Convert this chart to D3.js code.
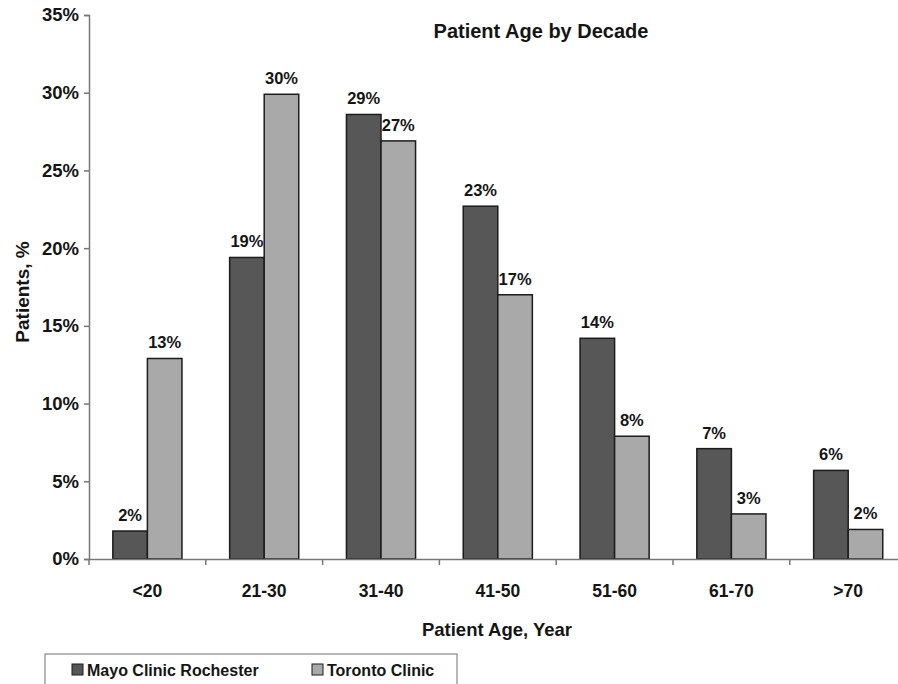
<!DOCTYPE html>
<html>
<head>
<meta charset="utf-8">
<script src="https://cdn.jsdelivr.net/npm/d3@7"></script>
<style>
  body { margin: 0; background: #fff; }
  svg text { font-family: "Liberation Sans", Arial, sans-serif; fill: #151515; }
</style>
</head>
<body>
<div id="chart"></div>
<script>
/* chart data */
var ageGroups = ["<20", "21-30", "31-40", "41-50", "51-60", "61-70", ">70"]
var seriesNames = ["Mayo Clinic Rochester", "Toronto Clinic"]
var mayoValues = [1.8, 19.4, 28.6, 22.7, 14.2, 7.1, 5.7]
var torontoValues = [12.9, 29.9, 26.9, 17.0, 7.9, 2.9, 1.9]
var yTicks = [0, 5, 10, 15, 20, 25, 30, 35]

/* colours */
var seriesColors = {
  "Mayo Clinic Rochester": "#575757",
  "Toronto Clinic": "#a9a9a9"
}

/* layout */
var width = 898,
    height = 684,
    plotLeft = 89,
    plotRight = 906.6,
    plotTop = 15,
    plotBottom = 559

var rows = ageGroups.map(function(g, i) {
  return { group: g, values: [mayoValues[i], torontoValues[i]] }
})

var svg = d3.select("#chart")
  .append("svg")
  .attr("width", width)
  .attr("height", height)

/* scales */
var x0 = d3.scaleBand()
  .domain(ageGroups)
  .range([plotLeft, plotRight])
  .padding(0)
var x1 = d3.scaleBand()
  .domain(seriesNames)
  .range([0, x0.bandwidth()])
  .paddingInner(0)
  .paddingOuter(0.69)
var y = d3.scaleLinear()
  .domain([0, 35])
  .range([plotBottom, plotTop])

/* bars */
var groups = svg.selectAll("g.group")
  .data(rows)
  .enter().append("g")
  .attr("class", "group")
  .attr("transform", function(d) { return "translate(" + x0(d.group) + ",0)" })

groups.selectAll("rect")
  .data(function(d) { return d.values.map(function(v, i) { return { name: seriesNames[i], value: v } }) })
  .enter().append("rect")
  .attr("x", function(d) { return x1(d.name) })
  .attr("y", function(d) { return y(d.value) })
  .attr("width", x1.bandwidth())
  .attr("height", function(d) { return y(0) - y(d.value) })
  .attr("fill", function(d) { return seriesColors[d.name] })
  .attr("stroke", "#1c1c1c")
  .attr("stroke-width", 1.5)

/* value labels */
groups.selectAll("text.val")
  .data(function(d) { return d.values.map(function(v, i) { return { name: seriesNames[i], value: v } }) })
  .enter().append("text")
  .attr("class", "val")
  .attr("x", function(d) { return x1(d.name) + x1.bandwidth() / 2 })
  .attr("y", function(d) { return y(d.value) - 10 })
  .attr("text-anchor", "middle")
  .style("font-size", "16.5px")
  .style("font-weight", "bold")
  .text(function(d) { return Math.round(d.value) + "%" })

/* y axis */
var yAxis = svg.append("g")
  .attr("transform", "translate(" + plotLeft + ",0)")
  .call(d3.axisLeft(y).tickValues(yTicks).tickSize(5).tickPadding(5)
    .tickFormat(function(d) { return d + "%" }))
yAxis.select(".domain").attr("stroke", "#777").attr("stroke-width", 1.5)
yAxis.selectAll(".tick line").attr("stroke", "#777").attr("stroke-width", 1.5)
yAxis.selectAll(".tick text")
  .style("font-size", "18.5px")
  .style("font-weight", "bold")
  .style("font-family", "'Liberation Sans', Arial, sans-serif")
  .attr("fill", "#151515")

/* x axis */
var xAxis = svg.append("g")
  .attr("transform", "translate(0," + plotBottom + ")")
  .call(d3.axisBottom(x0).tickSize(0).tickPadding(26))
xAxis.select(".domain").attr("stroke", "#777").attr("stroke-width", 1.5)
xAxis.selectAll(".tick text")
  .style("font-size", "17.5px")
  .style("font-weight", "bold")
  .style("font-family", "'Liberation Sans', Arial, sans-serif")
  .attr("fill", "#151515")

/* x tick marks between the groups */
xAxis.selectAll("line.sep")
  .data(ageGroups)
  .enter().append("line")
  .attr("class", "sep")
  .attr("x1", function(d) { return x0(d) })
  .attr("x2", function(d) { return x0(d) })
  .attr("y1", 0)
  .attr("y2", 6)
  .attr("stroke", "#777")
  .attr("stroke-width", 1.5)

/* titles */
svg.append("text")
  .attr("x", 541)
  .attr("y", 38)
  .attr("text-anchor", "middle")
  .style("font-size", "20px")
  .style("font-weight", "bold")
  .text("Patient Age by Decade")

svg.append("text")
  .attr("x", 497)
  .attr("y", 636)
  .attr("text-anchor", "middle")
  .style("font-size", "18.5px")
  .style("font-weight", "bold")
  .text("Patient Age, Year")

svg.append("text")
  .attr("transform", "translate(29,292) rotate(-90)")
  .attr("text-anchor", "middle")
  .style("font-size", "19px")
  .style("font-weight", "bold")
  .text("Patients, %")

/* legend */
var legend = svg.append("g")
legend.append("rect")
  .attr("x", 45)
  .attr("y", 654)
  .attr("width", 412)
  .attr("height", 40)
  .attr("fill", "#fff")
  .attr("stroke", "#888")
  .attr("stroke-width", 1.2)

var legendX = [72, 312]
var items = legend.selectAll("g.item")
  .data(seriesNames)
  .enter().append("g")
  .attr("class", "item")
  .attr("transform", function(d, i) { return "translate(" + legendX[i] + ",664)" })
items.append("rect")
  .attr("width", 11)
  .attr("height", 11)
  .attr("fill", function(d) { return seriesColors[d] })
  .attr("stroke", "#1c1c1c")
  .attr("stroke-width", 1)
items.append("text")
  .attr("x", 15)
  .attr("y", 11.5)
  .style("font-size", "16px")
  .style("font-weight", "bold")
  .text(function(d) { return d })
</script>
</body>
</html>
